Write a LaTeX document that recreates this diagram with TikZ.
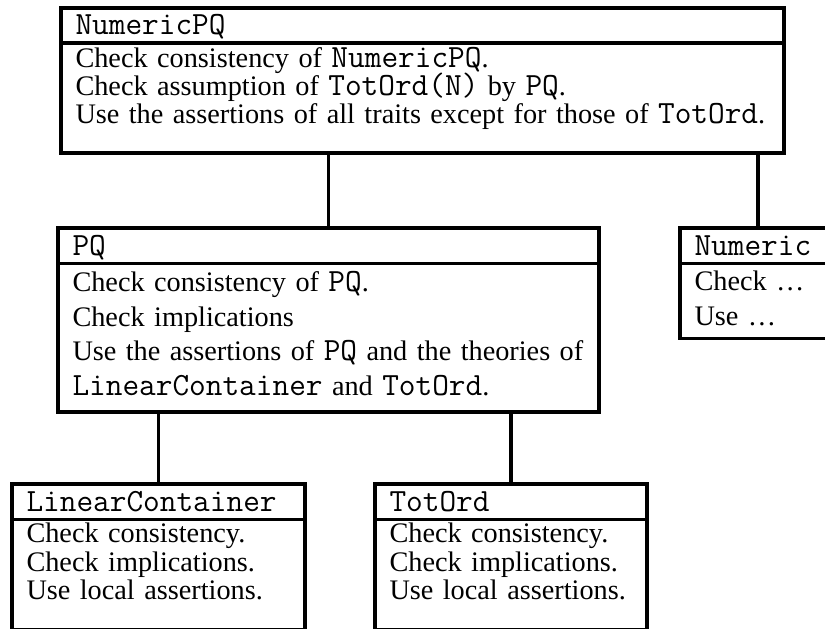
\documentclass[tikz,border=0pt]{standalone}
\usepackage{fontspec}
\setmainfont{Liberation Serif}
\setmonofont{Latin Modern Mono}[Scale=1.145]
\usepackage{tikz}
\tikzset{link/.style={line width=1.4pt}}
\tikzset{box-head/.style={draw, line width=1.4pt, outer sep=0pt, anchor=north west,
    inner xsep=6pt, inner ysep=0pt, align=left, text height=11.2pt, text depth=3.6pt,
    font=\fontsize{11.7}{12}\selectfont\ttfamily}}
\tikzset{box-body/.style={draw, line width=1.4pt, outer sep=0pt, anchor=north west,
    inner xsep=6pt, inner ysep=0pt, align=left}}
\newcommand{\trait}[1]{\texttt{#1}}
\newcommand{\topgap}[1]{\rule{0pt}{#1}}
\newcommand{\botgap}[1]{\rule[-#1]{0pt}{0pt}}
\newcommand{\bodyfont}[1]{\fontsize{11.7}{#1}\selectfont\lineskiplimit=-100pt}

\begin{document}
\begin{tikzpicture}[x=0.41379pt, y=-0.41379pt]
      \useasboundingbox (0,0) rectangle (825,628);
      \clip (0,0) rectangle (825,628);

      % top trait
      \node[box-head, text width=287.17pt, text height=10.9pt] (npq-h) at (61, 8) {NumericPQ};
      \node[box-body, text width=287.17pt, font=\bodyfont{11.59pt}] (npq-b) at (npq-h.south west)
        {\topgap{9.93pt}Check consistency of \trait{NumericPQ}.\\
         Check assumption of \trait{TotOrd(N)} by \trait{PQ}.\\
         Use the assertions of all traits except for those of \trait{TotOrd}.\botgap{12.41pt}};

      % second row
      \node[box-head, text width=211.86pt] (pq-h) at (58, 228) {PQ};
      \node[box-body, text width=211.86pt, font=\bodyfont{14.28pt}] (pq-b) at (pq-h.south west)
        {\topgap{11.59pt}Check consistency of \trait{PQ}.\\
         Check implications\\
         Use the assertions of \trait{PQ} and the theories of\\
         \trait{LinearContainer} and \trait{TotOrd}.\botgap{6.83pt}};

      \node[box-head, text width=52.55pt] (num-h) at (680, 228) {Numeric};
      \node[box-body, text width=52.55pt, font=\bodyfont{14.28pt}] (num-b) at (num-h.south west)
        {\topgap{11.17pt}Check \ldots\\
         Use \ldots\botgap{5.59pt}};

      % bottom row
      \node[box-head, text width=109.24pt] (lc-h) at (12, 484) {LinearContainer};
      \node[box-body, text width=109.24pt, font=\bodyfont{11.79pt}] (lc-b) at (lc-h.south west)
        {\topgap{9.52pt}Check consistency.\\
         Check implications.\\
         Use local assertions.\botgap{12.41pt}};

      \node[box-head, text width=100.55pt] (tot-h) at (375, 484) {TotOrd};
      \node[box-body, text width=100.55pt, font=\bodyfont{11.79pt}] (tot-b) at (tot-h.south west)
        {\topgap{9.52pt}Check consistency.\\
         Check implications.\\
         Use local assertions.\botgap{12.41pt}};

      \draw[link] (npq-b.south -| pq-h.north) -- (pq-h.north);
      \draw[link] (npq-b.south -| num-h.north) -- (num-h.north);
      \draw[link] (pq-b.south -| lc-h.north) -- (lc-h.north);
      \draw[link] (pq-b.south -| tot-h.north) -- (tot-h.north);
    \end{tikzpicture}
\end{document}
